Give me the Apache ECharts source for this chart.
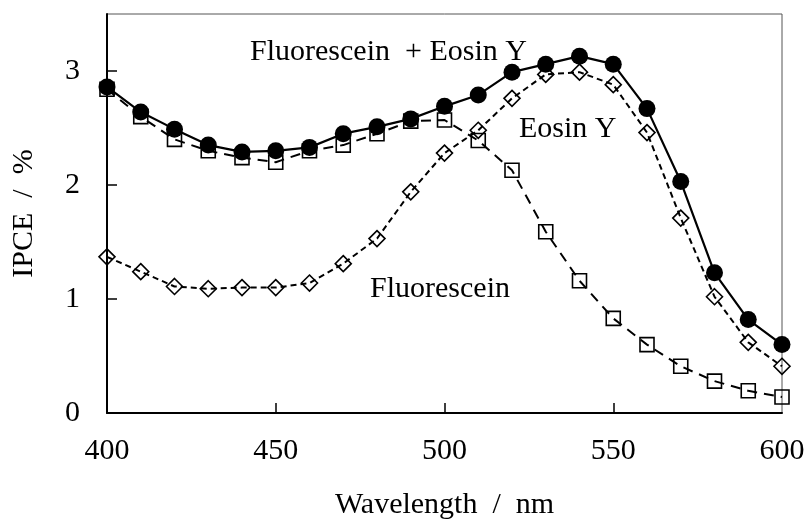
<!DOCTYPE html>
<html>
<head>
<meta charset="utf-8">
<title>IPCE spectra</title>
<script src="https://cdn.jsdelivr.net/npm/echarts@6/dist/echarts.min.js"></script>
<style>
  html, body { margin: 0; padding: 0; background: #fff; }
  #chart { width: 810px; height: 525px; }
</style>
</head>
<body>
<div id="chart"></div>
<script>
// Wavelengths (nm)
const wavelengths = [400, 410, 420, 430, 440, 450, 460, 470, 480, 490, 500,
                     510, 520, 530, 540, 550, 560, 570, 580, 590, 600];

// IPCE (%) for each sensitizer system
const coSensitized = [2.86, 2.64, 2.49, 2.35, 2.29, 2.30, 2.33, 2.45, 2.51, 2.58, 2.69,
                      2.79, 2.99, 3.06, 3.13, 3.06, 2.67, 2.03, 1.23, 0.82, 0.60];
const fluorescein  = [2.84, 2.60, 2.40, 2.30, 2.24, 2.20, 2.30, 2.35, 2.45, 2.56, 2.57,
                      2.39, 2.13, 1.59, 1.16, 0.83, 0.60, 0.41, 0.28, 0.195, 0.14];
const eosinY       = [1.37, 1.24, 1.11, 1.09, 1.10, 1.10, 1.14, 1.31, 1.53, 1.94, 2.28,
                      2.48, 2.76, 2.97, 2.99, 2.88, 2.46, 1.71, 1.02, 0.62, 0.41];

const xTicks = [400, 450, 500, 550, 600];
const yTicks = [0, 1, 2, 3];

const FONT = "'Liberation Serif', 'Times New Roman', serif";

const pairs = ys => wavelengths.map((w, i) => [w, ys[i]]);

const chart = echarts.init(document.getElementById('chart'), null, { renderer: 'canvas' });

chart.setOption({
  animation: false,
  backgroundColor: '#ffffff',
  grid: {
    left: 107, right: 28, top: 14, bottom: 110,
    show: true, borderColor: '#555', borderWidth: 1, backgroundColor: 'transparent'
  },
  xAxis: {
    type: 'value', min: 400, max: 600, interval: 50,
    name: 'Wavelength  /  nm', nameLocation: 'middle', nameGap: 77,
    nameTextStyle: { fontFamily: FONT, fontSize: 30, color: '#000' },
    axisLine: { show: true, lineStyle: { color: '#000', width: 2 } },
    axisTick: { show: true, inside: true, length: 10, lineStyle: { color: '#000', width: 1.5 },
                customValues: [450, 500, 550] },
    axisLabel: { fontFamily: FONT, fontSize: 30, color: '#000', margin: 23, customValues: xTicks },
    splitLine: { show: false }
  },
  yAxis: {
    type: 'value', min: 0, max: 3.5, interval: 0.5,
    name: 'IPCE  /  %', nameLocation: 'middle', nameGap: 68, nameRotate: 90,
    nameTextStyle: { fontFamily: FONT, fontSize: 30, color: '#000' },
    axisLine: { show: true, lineStyle: { color: '#000', width: 2 } },
    axisTick: { show: true, inside: true, length: 10, lineStyle: { color: '#000', width: 1.5 },
                customValues: [1, 2, 3] },
    axisLabel: { fontFamily: FONT, fontSize: 30, color: '#000', margin: 27, customValues: yTicks },
    splitLine: { show: false }
  },
  series: [
    {
      name: 'Fluorescein', type: 'line', data: pairs(fluorescein),
      symbol: 'rect', symbolSize: 14,
      itemStyle: { color: 'rgba(255,255,255,0)', borderColor: '#000', borderWidth: 1.6 },
      lineStyle: { color: '#000', width: 2, type: [10, 7] },
      z: 2
    },
    {
      name: 'Eosin Y', type: 'line', data: pairs(eosinY),
      symbol: 'diamond', symbolSize: 16,
      itemStyle: { color: 'rgba(255,255,255,0)', borderColor: '#000', borderWidth: 1.6 },
      lineStyle: { color: '#000', width: 2, type: [6, 4] },
      z: 3
    },
    {
      name: 'Fluorescein + Eosin Y', type: 'line', data: pairs(coSensitized),
      symbol: 'circle', symbolSize: 17,
      itemStyle: { color: '#000', borderColor: '#000', borderWidth: 0 },
      lineStyle: { color: '#000', width: 2.2, type: 'solid' },
      z: 4
    }
  ],
  graphic: [
    { type: 'text', left: 250, top: 37,
      style: { text: 'Fluorescein  + Eosin Y', font: '30px ' + FONT, fill: '#000' } },
    { type: 'text', left: 519, top: 114,
      style: { text: 'Eosin Y', font: '30px ' + FONT, fill: '#000' } },
    { type: 'text', left: 370, top: 274,
      style: { text: 'Fluorescein', font: '30px ' + FONT, fill: '#000' } }
  ]
});
</script>
</body>
</html>
